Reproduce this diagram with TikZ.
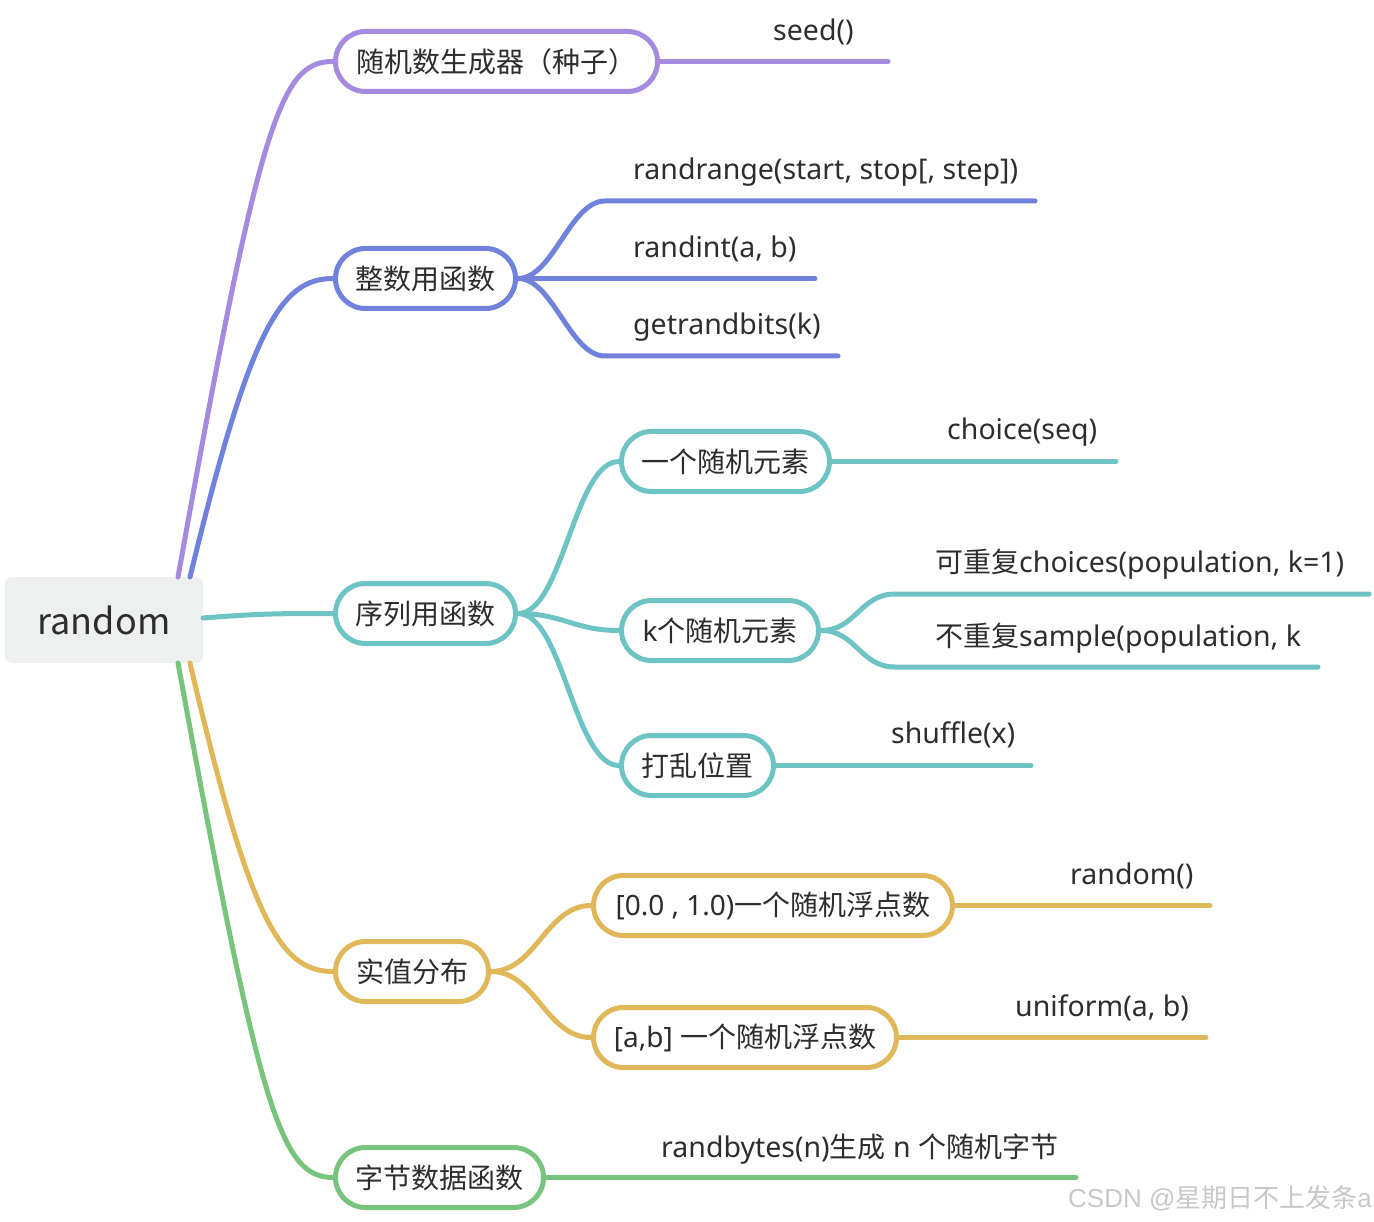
\documentclass[tikz,border=0pt]{standalone}
\usepackage{fontspec}
\setmainfont{Noto Sans}
\newfontfamily\cjkf{Noto Sans CJK SC}
\newfontfamily\wmlat{Liberation Sans}
\newcommand\cj[1]{{\cjkf\fontsize{28pt}{32pt}\selectfont #1}}
\definecolor{cpurple}{RGB}{165,138,224}
\definecolor{cblue}{RGB}{112,130,219}
\definecolor{cteal}{RGB}{110,196,196}
\definecolor{cyellow}{RGB}{224,184,90}
\definecolor{cgreen}{RGB}{120,196,126}
\definecolor{crootfill}{RGB}{238,240,239}
\definecolor{ctext}{RGB}{45,45,45}
\definecolor{cwm}{RGB}{200,200,200}
\begin{document}
\begin{tikzpicture}[x=1pt,y=-1pt,
  every node/.style={text=ctext},
  pill/.style={draw=#1, line width=5pt, fill=white, rounded corners=30pt,
    minimum height=60pt, inner sep=0pt, font=\fontsize{28pt}{32pt}\selectfont},
  leaf/.style={anchor=west, inner sep=0pt, font=\fontsize{28.5pt}{32pt}\selectfont},
  conn/.style={draw=#1, line width=5pt, line cap=round}
]
\useasboundingbox (0,0) rectangle (1374,1222);

% root
\node[fill=crootfill, rounded corners=7pt, minimum width=198pt, minimum height=86pt,
  inner sep=0pt, font=\cjkf\fontsize{36pt}{42pt}\selectfont] (root) at (104,620) {random};

% level 1
\node[pill=cpurple, minimum width=322pt] (n1) at (496.5,61.5) {\cj{随机数生成器（种子）}};
\node[pill=cblue, minimum width=180pt] (n2) at (425.5,278.5) {\cj{整数用函数}};
\node[pill=cteal, minimum width=180pt] (n3) at (425.5,613.5) {\cj{序列用函数}};
\node[pill=cyellow, minimum width=153pt] (n4) at (412,971.5) {\cj{实值分布}};
\node[pill=cgreen, minimum width=208pt] (n5) at (439.5,1177.5) {\cj{字节数据函数}};

% level 2
\node[pill=cteal, minimum width=208pt] (n31) at (725.5,461.5) {\cj{一个随机元素}};
\node[pill=cteal, minimum width=197pt] (n32) at (720,630.5) {k\cj{个随机元素}};
\node[pill=cteal, minimum width=152pt] (n33) at (697.5,765.5) {\cj{打乱位置}};
\node[pill=cyellow, minimum width=359pt] (n41) at (773,905.5) {[0.0 , 1.0)\cj{一个随机浮点数}};
\node[pill=cyellow, minimum width=303pt] (n42) at (745,1037.5) {[a,b] \cj{一个随机浮点数}};

% root connection points
\coordinate (rp) at (178,577);
\coordinate (rb) at (190,577);
\coordinate (rt) at (203,618);
\coordinate (ry) at (190,663);
\coordinate (rg) at (178,663);

\draw[conn=cpurple] (rp) .. controls (260,120) and (280,61.5) .. (n1.west);
\draw[conn=cblue] (rb) .. controls (250,330) and (280,278.5) .. (n2.west);
\draw[conn=cteal] (rt) .. controls (260,613.5) and (280,613.5) .. (n3.west);
\draw[conn=cyellow] (ry) .. controls (250,920) and (280,971.5) .. (n4.west);
\draw[conn=cgreen] (rg) .. controls (260,1110) and (280,1177.5) .. (n5.west);

% leaf end coordinates
\coordinate (e1) at (888,61.5);
\coordinate (b21) at (605,201);   \coordinate (e21) at (1035,201);
\coordinate (e22) at (815,278.5);
\coordinate (b23) at (605,356);   \coordinate (e23) at (838,356);
\coordinate (e31) at (1116,461.5);
\coordinate (b321) at (895,594);  \coordinate (e321) at (1369,594);
\coordinate (b322) at (895,667);  \coordinate (e322) at (1318,667);
\coordinate (e33) at (1031,765.5);
\coordinate (e41) at (1210,905.5);
\coordinate (e42) at (1206,1037.5);
\coordinate (e5) at (1076,1177.5);

% purple
\draw[conn=cpurple] (n1.east) -- (e1);
\node[leaf] (t1) at (773,32) {seed()};

% blue
\draw[conn=cblue] (n2.east) .. controls +(35,0) and +(-35,0) .. (b21) -- (e21);
\draw[conn=cblue] (n2.east) -- (e22);
\draw[conn=cblue] (n2.east) .. controls +(35,0) and +(-35,0) .. (b23) -- (e23);
\node[leaf] (t21) at (633,172) {randrange(start, stop[, step])};
\node[leaf] (t22) at (633,249) {randint(a, b)};
\node[leaf] (t23) at (633,327) {getrandbits(k)};

% teal
\draw[conn=cteal] (n3.east) .. controls +(45,0) and +(-45,0) .. (n31.west);
\draw[conn=cteal] (n3.east) .. controls +(45,0) and +(-45,0) .. (n32.west);
\draw[conn=cteal] (n3.east) .. controls +(45,0) and +(-45,0) .. (n33.west);
\draw[conn=cteal] (n31.east) -- (e31);
\draw[conn=cteal] (n32.east) .. controls +(35,0) and +(-35,0) .. (b321) -- (e321);
\draw[conn=cteal] (n32.east) .. controls +(35,0) and +(-35,0) .. (b322) -- (e322);
\draw[conn=cteal] (n33.east) -- (e33);
\node[leaf] (t31) at (947,432) {choice(seq)};
\node[leaf] (t321) at (935,564) {\cj{可重复}choices(population, k=1)};
\node[leaf] (t322) at (935,638) {\cj{不重复}sample(population, k};
\node[leaf] (t33) at (891,735) {shuffle(x)};

% yellow
\draw[conn=cyellow] (n4.east) .. controls +(45,0) and +(-45,0) .. (n41.west);
\draw[conn=cyellow] (n4.east) .. controls +(45,0) and +(-45,0) .. (n42.west);
\draw[conn=cyellow] (n41.east) -- (e41);
\draw[conn=cyellow] (n42.east) -- (e42);
\node[leaf] (t41) at (1070,876) {random()};
\node[leaf] (t42) at (1015,1008) {uniform(a, b)};

% green
\draw[conn=cgreen] (n5.east) -- (e5);
\node[leaf] (t5) at (661,1149) {randbytes(n)\cj{生成} n \cj{个随机字节}};

% watermark
\node[anchor=west, inner sep=0pt, text=cwm, font=\wmlat\fontsize{26pt}{30pt}\selectfont] (wm) at (1068,1198) {CSDN @{\cjkf 星期日不上发条}a};
\end{tikzpicture}
\end{document}
